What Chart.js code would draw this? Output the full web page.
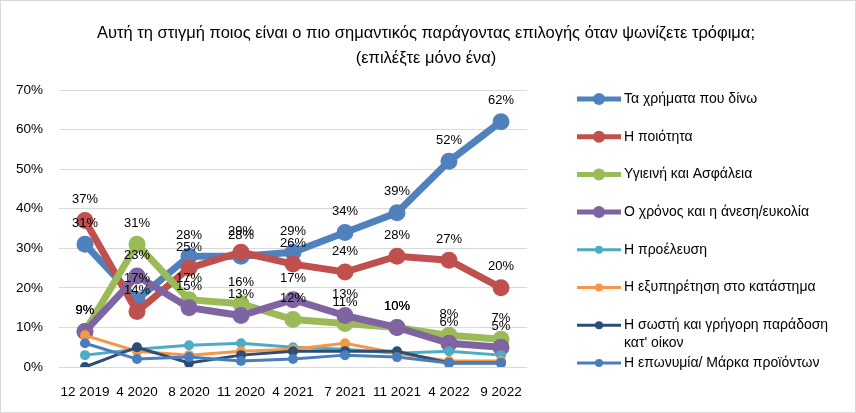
<!DOCTYPE html>
<html lang="el">
<head>
  <meta charset="UTF-8" />
  <title>Παράγοντας επιλογής τροφίμων</title>
  <style>
    body { margin: 0; background: #fff; }
    .box { width: 856px; height: 413px; box-sizing: border-box; border: 1px solid #d9d9d9; }
    canvas { display: block; }
  </style>
</head>
<body>
  <div class="box"><canvas id="chart" width="854" height="411"></canvas></div>

  <script src="https://cdn.jsdelivr.net/npm/chart.js"></script>
  <script>
    const periods = ['12 2019','4 2020','8 2020','11 2020','4 2021','7 2021','11 2021','4 2022','9 2022'];
    const yTicks = [0, 10, 20, 30, 40, 50, 60, 70];

    const money      = [31, 17, 28, 28, 29, 34, 39, 52, 62];
    const quality    = [37, 14, 25, 29, 26, 24, 28, 27, 20];
    const hygiene    = [9, 31, 17, 16, 12, 11, 10, 8, 7];
    const convenience= [9, 23, 15, 13, 17, 13, 10, 6, 5];
    const origin     = [3, 4.5, 5.5, 6, 5, 4.5, 3.5, 4, 3];
    const service    = [8, 4, 3, 4, 4.5, 6, 3.5, 1.5, 1.5];
    const delivery   = [0, 5, 1, 3, 4, 4, 4, 1, 1];
    const brand      = [6, 2, 2.5, 1.5, 2, 3, 2.5, 1, 1];

    const names = [
      'Τα χρήματα που δίνω',
      'Η ποιότητα',
      'Υγιεινή και Ασφάλεια',
      'Ο χρόνος και η άνεση/ευκολία',
      'Η προέλευση',
      'Η εξυπηρέτηση στο κατάστημα',
      "Η σωστή και γρήγορη παράδοση κατ' οίκον",
      'Η επωνυμία/ Μάρκα προϊόντων'
    ];
    const series = [money, quality, hygiene, convenience, origin, service, delivery, brand];
    const colors = ['#4f81bd','#c0504d','#9bbb59','#8064a2','#4bacc6','#f79646','#2c4d75','#4a7ebb'];
    const FONT = '"Liberation Sans", Arial, sans-serif';

    const datasets = series.map((data, i) => {
      const big = i < 4;
      return {
        label: names[i],
        data,
        borderColor: colors[i],
        backgroundColor: colors[i],
        borderWidth: big ? 7 : 3,
        pointRadius: big ? 8.5 : 5,
        pointHoverRadius: big ? 8.5 : 5,
        pointBorderWidth: 0,
        tension: 0,
        order: 7 - i,
        showValues: big
      };
    });

    // τίτλος
    const titlePlugin = {
      id: 'titleText',
      afterDraw(chart) {
        const ctx = chart.ctx;
        ctx.save();
        ctx.fillStyle = '#000';
        ctx.font = '16.5px ' + FONT;
        ctx.textAlign = 'center';
        ctx.textBaseline = 'alphabetic';
        ctx.fillText('Αυτή τη στιγμή ποιος είναι ο πιο σημαντικός παράγοντας επιλογής όταν ψωνίζετε τρόφιμα;', 425, 37);
        ctx.fillText('(επιλέξτε μόνο ένα)', 425, 62);
        ctx.restore();
      }
    };

    // ετικέτες τιμών
    const valuePlugin = {
      id: 'values',
      afterDatasetsDraw(chart) {
        const ctx = chart.ctx;
        ctx.save();
        ctx.fillStyle = '#000';
        ctx.font = '13px ' + FONT;
        ctx.textAlign = 'center';
        ctx.textBaseline = 'middle';
        chart.data.datasets.forEach((ds, i) => {
          if (!ds.showValues) return;
          chart.getDatasetMeta(i).data.forEach((pt, j) => {
            ctx.fillText(Math.round(ds.data[j]) + '%', pt.x, pt.y - 21);
          });
        });
        ctx.restore();
      }
    };

    // υπόμνημα
    const legendPlugin = {
      id: 'sideLegend',
      afterDraw(chart) {
        const ctx = chart.ctx;
        ctx.save();
        ctx.font = '14px ' + FONT;
        ctx.textBaseline = 'middle';
        let y = 98;
        chart.data.datasets.forEach((ds, i) => {
          const big = i < 4;
          ctx.strokeStyle = ds.borderColor;
          ctx.lineWidth = big ? 5 : 3;
          ctx.beginPath();
          ctx.moveTo(576, y);
          ctx.lineTo(620, y);
          ctx.stroke();
          ctx.fillStyle = ds.borderColor;
          ctx.beginPath();
          ctx.arc(598, y, big ? 6 : 4, 0, Math.PI * 2);
          ctx.fill();
          // αναδίπλωση
          const words = ds.label.split(' ');
          const lines = [];
          let line = '';
          words.forEach(w => {
            const test = line ? line + ' ' + w : w;
            if (ctx.measureText(test).width > 215 && line) { lines.push(line); line = w; }
            else line = test;
          });
          lines.push(line);
          ctx.fillStyle = '#000';
          lines.forEach((l, k) => ctx.fillText(l, 623, y + k * 18));
          y += 37.7;
        });
        ctx.restore();
      }
    };

    new Chart(document.getElementById('chart'), {
      type: 'line',
      data: { labels: periods, datasets },
      plugins: [titlePlugin, valuePlugin, legendPlugin],
      options: {
        responsive: false,
        animation: false,
        events: [],
        layout: { padding: { top: 89, right: 328, left: 0, bottom: 0 } },
        plugins: { legend: { display: false }, title: { display: false }, tooltip: { enabled: false } },
        scales: {
          x: {
            offset: true,
            grid: { display: false },
            border: { display: false },
            ticks: { color: '#000', font: { family: FONT, size: 13.5 }, padding: 9, maxRotation: 0, autoSkip: false },
            afterFit(scale) { scale.height = 45; }
          },
          y: {
            min: 0,
            max: 70,
            afterBuildTicks(scale) { scale.ticks = yTicks.map(v => ({ value: v })); },
            grid: { color: '#d9d9d9', lineWidth: 1, drawTicks: false },
            border: { display: false },
            ticks: { color: '#000', font: { family: FONT, size: 13.5 }, padding: 16, callback: v => v + '%' },
            afterFit(scale) { scale.width = 58; }
          }
        }
      }
    });
  </script>
</body>
</html>
